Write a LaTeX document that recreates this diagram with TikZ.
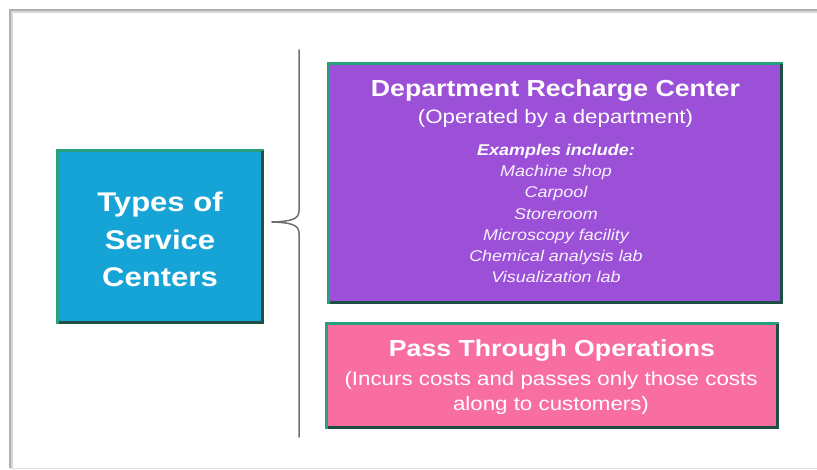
\documentclass[tikz,border=0pt]{standalone}
\usepackage{fontspec}
% Arial-metric sans, widened a little for the slide look
\newfontfamily\cardfont[FakeStretch=1.15]{Liberation Sans}

\definecolor{typesblue}{RGB}{22,163,214}
\definecolor{deptpurple}{RGB}{156,80,216}
\definecolor{passpink}{RGB}{248,110,160}
\definecolor{cardedge}{RGB}{40,160,125}
\definecolor{cardshadow}{RGB}{30,78,68}
\definecolor{slideedge}{RGB}{176,176,176}
\definecolor{bracegray}{RGB}{110,110,110}

\tikzset{
  card/.style={draw=cardedge, line width=2.2pt, inner sep=0pt, outer sep=0pt},
  cardshade/.style={draw=cardshadow, line width=2.2pt},
  bracket/.style={draw=bracegray, line width=1.5pt, line cap=round},
  textline/.style={anchor=base, inner sep=0pt, text=white},
  bigbold/.style={textline, font={\cardfont\bfseries\fontsize{27pt}{32pt}\selectfont}},
  titlebold/.style={textline, font={\cardfont\bfseries\fontsize{23.2pt}{28pt}\selectfont}},
  subline/.style={textline, font={\cardfont\fontsize{19.4pt}{24pt}\selectfont}},
  exhead/.style={textline, font={\cardfont\bfseries\itshape\fontsize{15.6pt}{20pt}\selectfont}},
  exline/.style={textline, text=white!92!deptpurple, font={\cardfont\itshape\fontsize{15.6pt}{20pt}\selectfont}},
}

\begin{document}
\begin{tikzpicture}[x=1pt, y=-1pt]
\useasboundingbox (0,0) rectangle (817,470);

% slide frame
\coordinate (fr1) at (817,10);
\coordinate (fr2) at (10,10);
\coordinate (fr3) at (10,468);
\coordinate (fr4) at (817,468);
\draw[slideedge!50, line width=3pt] ([yshift=-1.5pt]fr1) -- ([xshift=1.5pt,yshift=-1.5pt]fr2) -- ([xshift=1.5pt]fr3);
\draw[slideedge, line width=1.2pt] (fr1) -- (fr2) -- (fr3);
\draw[slideedge!40, line width=1pt] (fr3) -- (fr4);

% boxes
\node[card, fill=typesblue, minimum width=205pt, minimum height=172pt] (types) at (160,236.5) {};
\draw[cardshade] ([xshift=1pt]types.south west) -- (types.south east) -- ([yshift=-1pt]types.north east);

\node[card, fill=deptpurple, minimum width=453pt, minimum height=239pt] (dept) at (555,183) {};
\draw[cardshade] ([xshift=1pt]dept.south west) -- (dept.south east) -- ([yshift=-1pt]dept.north east);

\node[card, fill=passpink, minimum width=451pt, minimum height=104pt] (pass) at (552,375.5) {};
\draw[cardshade] ([xshift=1pt]pass.south west) -- (pass.south east) -- ([yshift=-1pt]pass.north east);

% bracket from the left box to the two categories
\coordinate (brtop) at (299,50);
\coordinate (brbot) at (299,437);
\coordinate (brtip) at (272,222);
\coordinate (brup) at (299,211);
\coordinate (brdn) at (299,233);
\draw[bracket] (brtop) -- (brup) .. controls (299,219) and (291,221.5) .. (brtip);
\draw[bracket] (brtip) .. controls (291,222.5) and (299,225) .. (brdn) -- (brbot);

% left box text
\foreach \t [count=\i from 0] in {Types of, Service, Centers}
  \node[bigbold] (types-\i) at (160,212+37.5*\i) {\t};

% department recharge center text
\node[titlebold] (dept-title) at (555.5,97) {Department Recharge Center};
\node[subline] (dept-sub) at (555.5,123.5) {(Operated by a department)};
\node[exhead] (dept-head) at (556,155.5) {Examples include:};
\foreach \t [count=\i] in {Machine shop, Carpool, Storeroom, Microscopy facility, Chemical analysis lab, Visualization lab}
  \node[exline] (dept-ex\i) at (556,155.5+21.2*\i) {\t};

% pass through operations text
\node[titlebold] (pass-title) at (552,357) {Pass Through Operations};
\node[subline] (pass-sub1) at (551,385) {(Incurs costs and passes only those costs};
\node[subline] (pass-sub2) at (551,410) {along to customers)};
\end{tikzpicture}
\end{document}
